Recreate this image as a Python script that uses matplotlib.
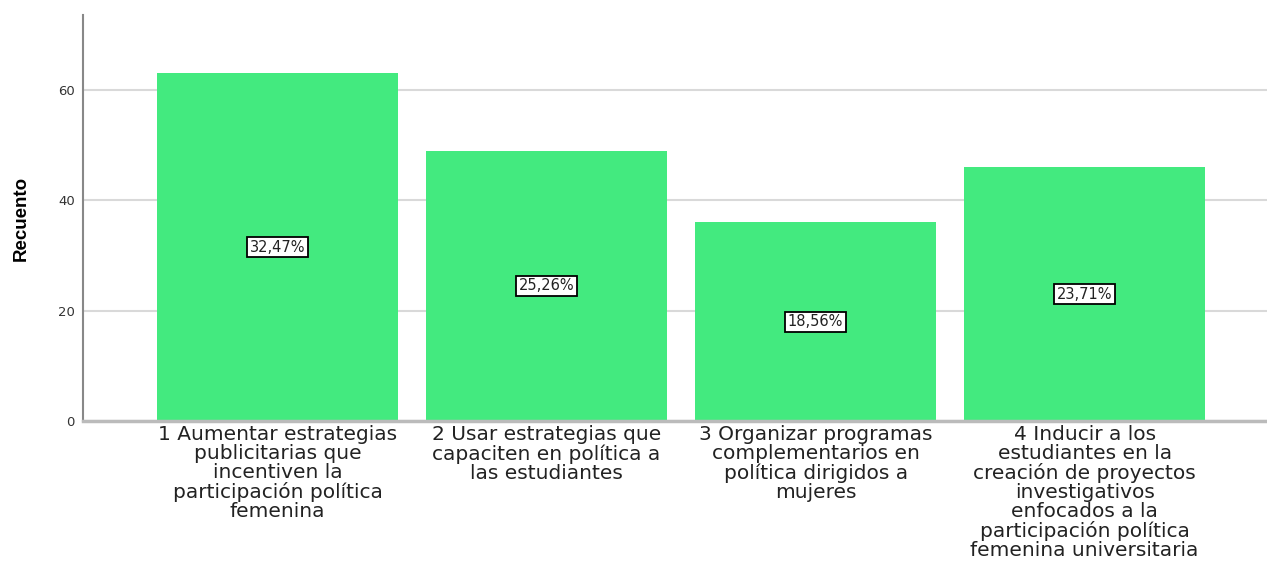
import matplotlib.pyplot as plt

plt.rcParams['font.family'] = ['DejaVu Sans']

categories = [
    "1 Aumentar estrategias\npublicitarias que\nincentiven la\nparticipación política\nfemenina",
    "2 Usar estrategias que\ncapaciten en política a\nlas estudiantes",
    "3 Organizar programas\ncomplementarios en\npolítica dirigidos a\nmujeres",
    "4 Inducir a los\nestudiantes en la\ncreación de proyectos\ninvestigativos\nenfocados a la\nparticipación política\nfemenina universitaria",
]
counts = [63, 49, 36, 46]
pct_labels = ["32,47%", "25,26%", "18,56%", "23,71%"]
yticks = [0, 20, 40, 60]

fig = plt.figure(figsize=(12.67, 5.67), dpi=100)
ax = fig.add_axes([0.0655, 0.2575, 0.9345, 0.716])

x = list(range(len(counts)))
ax.bar(x, counts, width=0.896, color='#43EA7F', zorder=2)

for xi, c, lab in zip(x, counts, pct_labels):
    ax.text(xi, c / 2, lab, ha='center', va='center', fontsize=10.5,
            color='#222222', zorder=3,
            bbox=dict(boxstyle='square,pad=0.18', facecolor='white',
                      edgecolor='black', linewidth=1.3))

ax.set_xlim(-0.723, 3.678)
ax.set_ylim(0, 73.6)
ax.set_yticks(yticks)
ax.set_yticklabels([str(t) for t in yticks], fontsize=9.5, color='#333333')
ax.set_xticks(x)
ax.set_xticklabels(categories, fontsize=14.5, color='#222222', linespacing=1.0)
ax.tick_params(axis='x', length=0, pad=3)
ax.tick_params(axis='y', length=0, pad=6)

ax.grid(axis='y', color='#d9d9d9', linewidth=1.5, zorder=0)
for side in ['top', 'right']:
    ax.spines[side].set_visible(False)
ax.spines['left'].set_color('#888888')
ax.spines['left'].set_linewidth(1.5)
ax.spines['bottom'].set_color('#bbbbbb')
ax.spines['bottom'].set_linewidth(2.5)

ax.set_ylabel('Recuento', fontsize=13.5, fontweight='bold',
              family='Liberation Sans')
ax.yaxis.set_label_coords(-0.045, 0.5)

plt.savefig('out.png', dpi=100)
plt.close()
